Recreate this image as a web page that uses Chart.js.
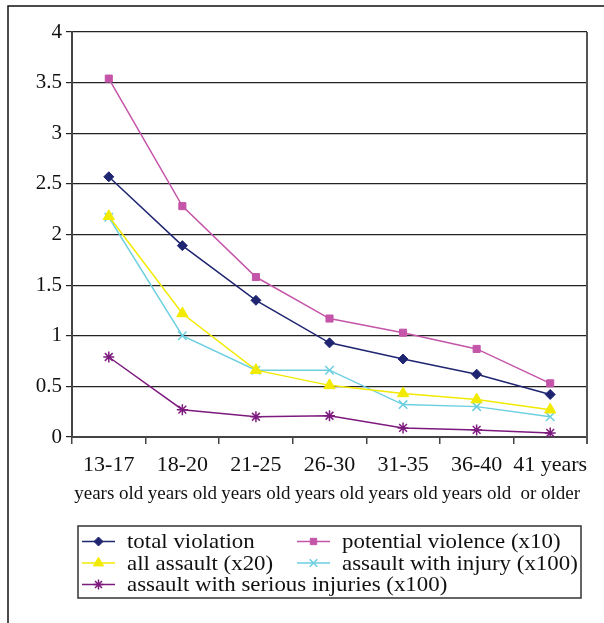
<!DOCTYPE html>
<html>
<head>
<meta charset="utf-8">
<script src="https://cdn.jsdelivr.net/npm/chart.js@4.4.1/dist/chart.umd.min.js"></script>
<style>
  html, body { margin: 0; padding: 0; background: #fff; }
  #wrap { width: 604px; height: 623px; position: relative; }
</style>
</head>
<body>
<div id="wrap"><canvas id="c" width="604" height="623"></canvas></div>
<script>
// ---- data ----
const catTop = ["13-17", "18-20", "21-25", "26-30", "31-35", "36-40", "41 years"];
const catBottom = ["years old", "years old", "years old", "years old", "years old", "years old", "or older"];
const totalViolation = [2.57, 1.89, 1.35, 0.93, 0.77, 0.62, 0.42];
const potentialViolence = [3.54, 2.28, 1.58, 1.17, 1.03, 0.87, 0.53];
const allAssault = [2.18, 1.22, 0.66, 0.51, 0.43, 0.37, 0.27];
const assaultInjury = [2.17, 1.00, 0.66, 0.66, 0.32, 0.30, 0.20];
const assaultSerious = [0.79, 0.27, 0.20, 0.21, 0.09, 0.07, 0.04];
const seriesLabels = ["total violation", "potential violence (x10)", "all assault (x20)", "assault with injury (x100)", "assault with serious injuries (x100)"];
const yTicks = [0, 0.5, 1, 1.5, 2, 2.5, 3, 3.5, 4];

const SERIF = "'Liberation Serif', 'Times New Roman', serif";

function ds(label, data, color, style, radius, bw) {
  return {
    label, data,
    borderColor: color, backgroundColor: color,
    borderWidth: 1.5,
    pointStyle: style, pointRadius: radius, pointHoverRadius: radius,
    pointBorderColor: color, pointBackgroundColor: color,
    pointBorderWidth: bw,
    tension: 0, fill: false
  };
}

const datasets = [
  ds(seriesLabels[0], totalViolation, '#1f2570', 'rectRot', 5, 1),
  ds(seriesLabels[1], potentialViolence, '#c455a8', 'rect', 5, 1),
  ds(seriesLabels[2], allAssault, '#f2ea00', 'triangle', 6.5, 1),
  ds(seriesLabels[3], assaultInjury, '#6ccfe0', 'crossRot', 6, 1.5),
  ds(seriesLabels[4], assaultSerious, '#7d1a7e', 'star', 5.5, 1.5)
];

const framePlugin = {
  id: 'frame',
  beforeDraw(chart) {
    const ctx = chart.ctx;
    ctx.save();
    ctx.strokeStyle = '#111';
    ctx.lineWidth = 1.5;
    ctx.beginPath();
    ctx.moveTo(8, 623);
    ctx.lineTo(8, 6);
    ctx.lineTo(604, 6);
    ctx.stroke();
    ctx.restore();
  },
  afterDraw(chart) {
    const ctx = chart.ctx;
    const a = chart.chartArea;
    ctx.save();
    // right border of plot area
    ctx.strokeStyle = '#555';
    ctx.lineWidth = 2;
    ctx.beginPath();
    ctx.moveTo(a.right, a.top);
    ctx.lineTo(a.right, a.bottom + 7);
    ctx.stroke();
    // second line of category labels
    const xs = chart.scales.x;
    ctx.fillStyle = '#111';
    ctx.font = "19px " + SERIF;
    ctx.textAlign = 'center';
    ctx.textBaseline = 'middle';
    catBottom.forEach((t, i) => {
      ctx.fillText(t, xs.getPixelForTick(i), 494);
    });
    // legend
    const bx = 78, by = 526, bw = 503, bh = 72;
    ctx.strokeStyle = '#333';
    ctx.lineWidth = 1.5;
    ctx.strokeRect(bx, by, bw, bh);
    const pos = [
      [82, 541.5], [297, 541.5],
      [82, 563], [297, 563],
      [82, 584.5]
    ];
    chart.data.datasets.forEach((d, i) => {
      const [x, y] = pos[i];
      ctx.strokeStyle = d.borderColor;
      ctx.lineWidth = 1.5;
      ctx.beginPath();
      ctx.moveTo(x, y);
      ctx.lineTo(x + 33, y);
      ctx.stroke();
      if (Chart.helpers && Chart.helpers.drawPoint) {
        ctx.fillStyle = d.pointBackgroundColor;
        ctx.strokeStyle = d.pointBorderColor;
        ctx.lineWidth = d.pointBorderWidth;
        Chart.helpers.drawPoint(ctx, {
          pointStyle: d.pointStyle,
          radius: d.pointRadius * 0.9,
          rotation: 0,
          borderWidth: d.pointBorderWidth
        }, x + 16.5, y);
      }
      ctx.save();
      ctx.fillStyle = '#111';
      ctx.font = "22px " + SERIF;
      ctx.textAlign = 'left';
      ctx.textBaseline = 'middle';
      ctx.translate(x + 45, y + 1);
      ctx.scale(1.04, 1);
      ctx.fillText(d.label, 0, 0);
      ctx.restore();
    });
    ctx.restore();
  }
};

new Chart(document.getElementById('c'), {
  type: 'line',
  data: { labels: catTop, datasets },
  options: {
    responsive: false,
    animation: false,
    devicePixelRatio: 1,
    layout: { padding: { left: 0, top: 32, right: 17, bottom: 0 } },
    plugins: { legend: { display: false }, tooltip: { enabled: false }, title: { display: false } },
    scales: {
      x: {
        type: 'category',
        offset: true,
        grid: { offset: true, drawOnChartArea: false, drawTicks: true, tickLength: 7, color: '#444', lineWidth: 1.5 },
        border: { color: '#444', width: 2 },
        ticks: {
          font: { family: SERIF, size: 22 },
          color: '#111',
          maxRotation: 0, minRotation: 0, autoSkip: false,
          padding: 8
        },
        afterFit(s) { s.height = 186; }
      },
      y: {
        min: 0, max: 4,
        afterBuildTicks(s) { s.ticks = yTicks.map(v => ({ value: v })); },
        grid: { color: '#222', lineWidth: 1.2, tickLength: 6 },
        border: { color: '#444', width: 2 },
        ticks: {
          font: { family: SERIF, size: 21 },
          color: '#111',
          padding: 4,
          callback: v => String(v)
        },
        afterFit(s) { s.width = 72; }
      }
    }
  },
  plugins: [framePlugin]
});
</script>
</body>
</html>
